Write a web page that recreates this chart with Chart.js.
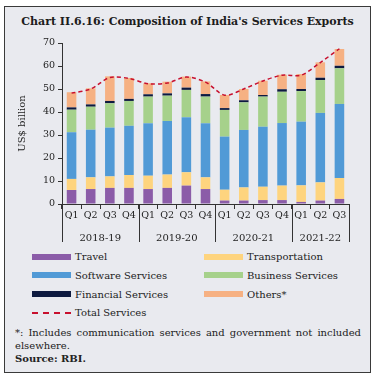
<!DOCTYPE html>
<html>
<head>
<meta charset="utf-8">
<script src="https://cdn.jsdelivr.net/npm/chart.js@4/dist/chart.umd.min.js"></script>
<style>
  body { margin: 0; width: 375px; height: 378px; background: #fff; font-family: "DejaVu Serif", serif; color: #222; overflow: hidden; }
  #frame { position: absolute; left: 4px; top: 6px; width: 367px; height: 367px; box-sizing: border-box; border: 1px solid #3a3a3a; background: #e9eaef; }
  #title { position: absolute; left: 5px; width: 365px; top: 15px; text-align: center; font-weight: bold; font-size: 11px; color: #1c1c1c; }
  #wrap { position: absolute; left: 5px; top: 28px; width: 365px; height: 222px; }
  .lg { position: absolute; height: 13px; font-size: 10px; line-height: 13px; white-space: nowrap; }
  .sw { position: absolute; width: 39px; height: 6px; top: 3.5px; }
  .dash { position: absolute; width: 39px; top: 5.5px; border-top: 2px dashed #c8102e; }
  #note { position: absolute; left: 15px; width: 346px; top: 326px; font-size: 10px; line-height: 13px; text-align: justify; }
</style>
</head>
<body>
<div id="frame"></div>
<div id="title">Chart II.6.16: Composition of India's Services Exports</div>
<div id="wrap"><canvas id="chart"></canvas></div>
<div id="legend"></div>
<div id="note">*: Includes communication services and government not included elsewhere.<br><b>Source: RBI.</b></div>
<script>
const quarters = ["Q1", "Q2", "Q3", "Q4", "Q1", "Q2", "Q3", "Q4", "Q1", "Q2", "Q3", "Q4", "Q1", "Q2", "Q3"];
const years = ["2018-19", "2019-20", "2020-21", "2021-22"];
const quartersPerYear = [4, 4, 4, 3];

const travel = [6.1, 6.5, 7.0, 7.0, 6.5, 7.0, 8.0, 6.5, 1.5, 1.5, 1.7, 1.7, 0.9, 1.5, 2.2];
const transportation = [4.8, 5.1, 5.0, 5.6, 5.8, 5.8, 5.8, 5.1, 4.7, 5.7, 5.8, 6.3, 7.2, 7.9, 9.1];
const software = [20.3, 20.7, 21.2, 21.4, 22.8, 23.3, 23.9, 23.5, 23.1, 25.0, 26.1, 27.2, 27.7, 30.2, 32.2];
const business = [9.8, 10.0, 10.6, 10.8, 11.6, 11.0, 11.9, 11.6, 11.6, 12.0, 13.1, 13.6, 13.3, 14.3, 15.5];
const financial = [1.0, 1.0, 1.0, 0.9, 1.0, 1.0, 1.0, 1.1, 0.8, 0.9, 0.7, 1.1, 0.9, 1.0, 1.1];
const others = [6.6, 7.0, 10.7, 9.1, 4.8, 5.1, 4.8, 5.5, 5.7, 4.9, 6.2, 6.3, 6.5, 6.7, 7.3];
const totalServices = [48.2, 50.0, 55.0, 54.6, 52.3, 52.6, 55.2, 53.0, 47.3, 50.0, 53.5, 56.0, 56.0, 61.5, 67.5];

const seriesNames = ["Travel", "Transportation", "Software Services", "Business Services", "Financial Services", "Others*"];
const seriesData = [travel, transportation, software, business, financial, others];
const seriesColors = ["#8b5ca8", "#fed47e", "#519ad6", "#a6d18b", "#0e1a40", "#f6b183"];
const lineColor = "#c8102e";
const axisColor = "#333";
const fontFamily = "'DejaVu Serif', serif";

// years under the quarter labels, with separators between years
const yearGroups = {
    id: "yearGroups",
    afterDraw(chart) {
        const x = chart.scales.x;
        const ctx = chart.ctx;
        const top = x.top;
        let start = 0;
        const edges = [chart.chartArea.left];
        quartersPerYear.forEach((n, i) => {
            const end = start + n - 1;
            const right = i === quartersPerYear.length - 1
                ? chart.chartArea.right
                : (x.getPixelForValue(end) + x.getPixelForValue(end + 1)) / 2;
            edges.push(right);
            const mid = (x.getPixelForValue(start) + x.getPixelForValue(end)) / 2;
            ctx.save();
            ctx.fillStyle = "#222";
            ctx.font = "10px " + fontFamily;
            ctx.textAlign = "center";
            ctx.textBaseline = "middle";
            ctx.fillText(years[i], mid, top + 34);
            ctx.restore();
            start += n;
        });
        ctx.save();
        ctx.strokeStyle = axisColor;
        ctx.lineWidth = 1;
        edges.forEach((px) => {
            const p = Math.round(px) + 0.5;
            ctx.beginPath();
            ctx.moveTo(p, top);
            ctx.lineTo(p, top + 38);
            ctx.stroke();
        });
        ctx.restore();
    },
};

const datasets = seriesNames.map((name, i) => ({
    type: "bar",
    label: name,
    data: seriesData[i],
    backgroundColor: seriesColors[i],
    stack: "s",
    barPercentage: 0.5,
    categoryPercentage: 1,
    order: 2,
}));
datasets.push({
    type: "line",
    label: "Total Services",
    data: totalServices,
    borderColor: lineColor,
    borderWidth: 1.5,
    borderDash: [4, 3],
    pointRadius: 0,
    tension: 0.3,
    stack: "line",
    order: 1,
});

new Chart(document.getElementById("chart").getContext("2d"), {
    data: { labels: quarters, datasets },
    plugins: [yearGroups],
    options: {
        responsive: true,
        maintainAspectRatio: false,
        animation: false,
        layout: { padding: { top: 15, right: 21, left: 7, bottom: 0 } },
        plugins: { legend: { display: false }, tooltip: { enabled: false } },
        scales: {
            x: {
                stacked: true,
                afterFit: (scale) => { scale.height = 46; },
                grid: { offset: true, drawOnChartArea: false, tickLength: 5, color: axisColor },
                border: { color: axisColor },
                ticks: { color: "#222", font: { family: fontFamily, size: 9.5 }, padding: 1, autoSkip: false, maxRotation: 0 },
            },
            y: {
                stacked: true,
                min: 0,
                max: 70,
                afterFit: (scale) => { scale.width = 50; },
                grid: { drawOnChartArea: false, tickLength: 4, color: axisColor },
                border: { color: axisColor },
                ticks: { stepSize: 10, color: "#222", font: { family: fontFamily, size: 9.5 }, padding: 3 },
                title: { display: true, text: "US$ billion", color: "#222", font: { family: fontFamily, size: 10 }, padding: { top: 4, bottom: 0 } },
            },
        },
    },
});

// legend, two columns
const legend = document.getElementById("legend");
const items = seriesNames.map((n, i) => ({ name: n, color: seriesColors[i] }));
items.push({ name: "Total Services", dashed: true });
items.forEach((it, i) => {
    const col = i % 2;
    const row = Math.floor(i / 2);
    const el = document.createElement("div");
    el.className = "lg";
    el.style.left = (col ? 204 : 32) + "px";
    el.style.top = (250 + row * 18.8) + "px";
    const sw = document.createElement("div");
    if (it.dashed) {
        sw.className = "dash";
    } else {
        sw.className = "sw";
        sw.style.background = it.color;
    }
    el.appendChild(sw);
    const tx = document.createElement("span");
    tx.style.marginLeft = "43px";
    tx.textContent = it.name;
    el.appendChild(tx);
    legend.appendChild(el);
});
</script>
</body>
</html>
